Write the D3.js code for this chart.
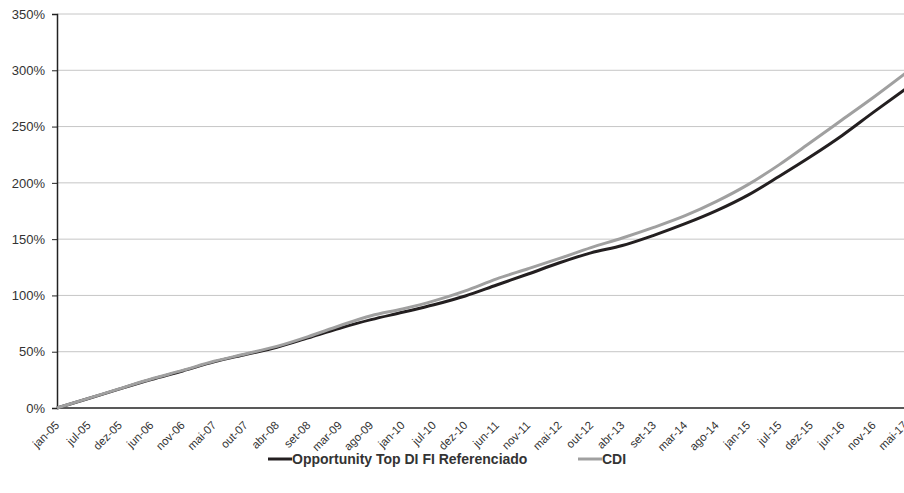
<!DOCTYPE html>
<html>
<head>
<meta charset="utf-8">
<script src="https://cdn.jsdelivr.net/npm/d3@7"></script>
<style>
  body { margin: 0; background: #fff; }
  svg { display: block; font-family: "Liberation Sans", Arial, sans-serif; }
</style>
</head>
<body>
<div class="graph-container"></div>
<script>
// category labels on the x axis
var labels = ['jan-05','jul-05','dez-05','jun-06','nov-06','mai-07','out-07','abr-08','set-08','mar-09',
  'ago-09','jan-10','jul-10','dez-10','jun-11','nov-11','mai-12','out-12','abr-13','set-13',
  'mar-14','ago-14','jan-15','jul-15','dez-15','jun-16','nov-16','mai-17'];

// accumulated return at each label, %
var fundValues = [0,8.4,17,25.3,32.9,41,47.5,54,62.4,70.9,78.5,85,91.7,99.5,109.3,119,129,137.8,144.3,153.4,
  163.7,175.3,189.1,205.9,223.4,242.1,262.8,283];
var cdiValues = [0,8.6,17.2,25.8,33.4,41.5,48,54.7,63.4,73.1,82,88,95.2,104.1,114.7,123.7,132.9,142.5,151,160.4,
  170.8,183.5,198.4,216.2,236,256,276,297];

var yTicks = [0,50,100,150,200,250,300,350];

var svgWidth = 904;
var svgHeight = 493;
var plotLeft = 57, plotTop = 14, plotBottom = 408;

var svg = d3.select('.graph-container').append('svg')
  .attr('width', svgWidth)
  .attr('height', svgHeight);

// last category sits right at (just past) the picture's right edge
var xScale = d3.scalePoint().domain(labels).range([plotLeft, 905]);
var yScale = d3.scaleLinear().domain([0, 350]).range([plotBottom, plotTop]);

// gridlines
svg.append('g').selectAll('line')
  .data(yTicks.filter(function(d) { return d > 0; }))
  .enter().append('line')
  .attr('x1', plotLeft).attr('x2', svgWidth)
  .attr('y1', function(d) { return yScale(d); })
  .attr('y2', function(d) { return yScale(d); })
  .attr('stroke', '#c6c6c6')
  .attr('stroke-width', 1);

// y axis
var yAxis = d3.axisLeft(yScale)
  .tickValues(yTicks)
  .tickSize(5)
  .tickPadding(7)
  .tickFormat(function(d) { return d + '%'; });

var gy = svg.append('g')
  .attr('transform', 'translate(' + plotLeft + ',0)')
  .call(yAxis);
gy.select('.domain').attr('stroke', '#222').attr('stroke-width', 1.5);
gy.selectAll('.tick line').attr('stroke', '#222');
gy.selectAll('.tick text').attr('fill', '#333').style('font-size', '13px')
  .style('font-family', '"Liberation Sans", Arial, sans-serif');

// x axis line
svg.append('line')
  .attr('x1', plotLeft).attr('x2', svgWidth)
  .attr('y1', plotBottom).attr('y2', plotBottom)
  .attr('stroke', '#222').attr('stroke-width', 1.5);

// x labels, rotated
svg.append('g').selectAll('text')
  .data(labels)
  .enter().append('text')
  .attr('transform', function(d) {
    return 'translate(' + (xScale(d) + 3) + ',' + (plotBottom + 18) + ') rotate(-45)';
  })
  .style('text-anchor', 'end')
  .style('font-size', '11.5px')
  .attr('fill', '#333')
  .text(function(d) { return d; });

// lines
var line = d3.line()
  .x(function(d, i) { return xScale(labels[i]); })
  .y(function(d) { return yScale(d); })
  .curve(d3.curveMonotoneX);

svg.append('path')
  .attr('d', line(fundValues))
  .attr('fill', 'none')
  .attr('stroke', '#231f20')
  .attr('stroke-width', 3);

svg.append('path')
  .attr('d', line(cdiValues))
  .attr('fill', 'none')
  .attr('stroke', '#a0a0a0')
  .attr('stroke-width', 3);

// legend
var legend = [
  { name: 'Opportunity Top DI FI Referenciado', color: '#231f20', x: 268 },
  { name: 'CDI', color: '#a0a0a0', x: 578 }
];
var lg = svg.append('g').selectAll('g')
  .data(legend)
  .enter().append('g')
  .attr('transform', function(d) { return 'translate(' + d.x + ',459)'; });
lg.append('line')
  .attr('x1', 0).attr('x2', 24)
  .attr('stroke', function(d) { return d.color; })
  .attr('stroke-width', 3);
lg.append('text')
  .attr('x', 24)
  .attr('y', 5)
  .style('font-size', '14px')
  .style('font-weight', 'bold')
  .attr('fill', '#333')
  .text(function(d) { return d.name; });
</script>
</body>
</html>
